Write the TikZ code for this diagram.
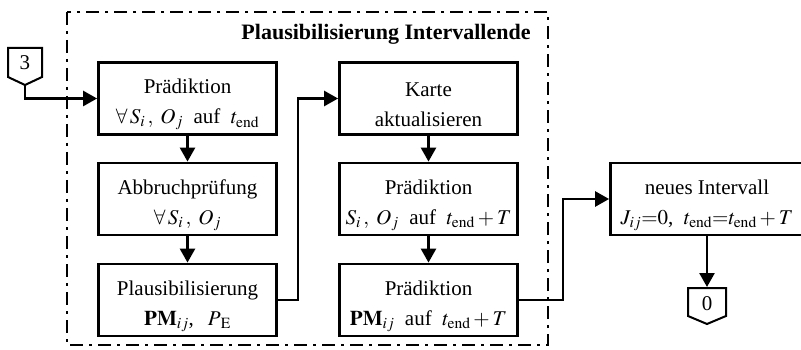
\documentclass[tikz,border=0pt]{standalone}
\usepackage{mathptmx}
\usepackage{fontspec}
\setmainfont{Liberation Serif}
\usetikzlibrary{arrows.meta}
\newcommand{\topstrut}{\rule{0pt}{27pt}}
\begin{document}
\begin{tikzpicture}[x=1pt,y=-1pt,
  box/.style={draw,line width=2.8pt,minimum width=178pt,minimum height=72pt,
    align=center,inner sep=0pt,font=\fontsize{21}{30}\selectfont},
  conn/.style={line width=2.6pt,-{Triangle[length=14pt,width=15pt]}},
  offpage/.style={line width=2pt,line join=miter},
  frame/.style={line width=2.4pt,dash pattern=on 13pt off 6pt on 3pt off 6pt},
  lbl/.style={font=\fontsize{21}{25}\selectfont,inner sep=0pt},
  ]
\useasboundingbox (0,0) rectangle (801,350);

% frame
\draw[frame] (67,12) rectangle (548,345);
\node[font=\fontsize{22}{26}\selectfont\bfseries,anchor=base,inner sep=0pt] (title) at (386,40) {Plausibilisierung Intervallende};

% left column
\node[box] (b1) at (187.5,98.5) {\topstrut Prädiktion\\$\forall\,S_i\,,\;O_j$\ \ auf\ \ $t_{\mathrm{end}}$};
\node[box] (b2) at (187.5,199) {\topstrut Abbruchprüfung\\$\forall\,S_i\,,\;O_j$};
\node[box] (b3) at (187.5,300) {\topstrut Plausibilisierung\\$\mathbf{PM}_{ij}$,\ \ \,$P_{\mkern3mu\mathrm{E}}$};

% right column
\node[box] (k) at (428.5,98.5) {\topstrut Karte\\aktualisieren};
\node[box] (p1) at (428.5,199) {\topstrut Prädiktion\\$S_i\,,\;O_j$\ \ auf\ \ $t_{\mathrm{end}}+T$};
\node[box] (p2) at (428.5,300) {\topstrut Prädiktion\\$\mathbf{PM}_{ij}$\ \ auf\ \ $t_{\mathrm{end}}+T$};

% new interval
\node[box,minimum width=193pt] (n) at (707,199) {\topstrut neues Intervall\\$J_{ij}{=}0$,\ \ $t_{\mathrm{end}}{=}t_{\mathrm{end}}+T$};

% off-page connector 3
\draw[offpage] (8,48) -- (42,48) -- (42,77) -- (25,85) -- (8,77) -- cycle;
\node[lbl] (c3) at (25,63) {3};
\coordinate (c3tip) at (25,85);

% off-page connector 0
\draw[offpage] (688,288) -- (726,288) -- (726,316) -- (707,324) -- (688,316) -- cycle;
\node[lbl] (c0) at (707,304) {0};
\coordinate (c0top) at (707,287);

% connectors
\draw[conn] (c3tip) |- (b1.west);
\draw[conn] (b1.south) -- (b2.north);
\draw[conn] (b2.south) -- (b3.north);
\draw[conn] (b3.east) -- ++(20,0) |- (k.west);
\draw[conn] (k.south) -- (p1.north);
\draw[conn] (p1.south) -- (p2.north);
\draw[conn] (p2.east) -- ++(44,0) |- (n.west);
\draw[conn] (n.south) -- (c0top);
\end{tikzpicture}
\end{document}
